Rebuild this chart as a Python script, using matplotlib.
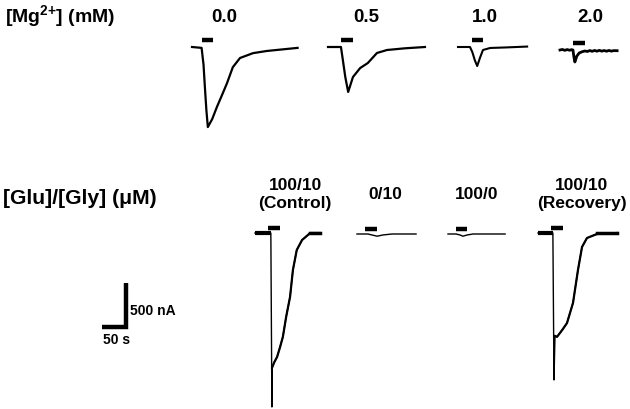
import matplotlib
matplotlib.use("Agg")
import matplotlib.pyplot as plt
import numpy as np

plt.rcParams["mathtext.fontset"] = "custom"
plt.rcParams["mathtext.rm"] = "Liberation Sans:bold"
plt.rcParams["mathtext.bf"] = "Liberation Sans:bold"

# ---------------- data (time in s from trace start, current in nA rel. baseline) ----
mg_labels = ["0.0", "0.5", "1.0", "2.0"]
mg00_t = [0, 20, 24, 27, 30, 33, 42, 52, 63, 73, 85, 100, 127, 156, 220]
mg00_i = [0, -10, -200, -470, -720, -910, -820, -680, -540, -410, -230, -125, -70, -45, -10]
mg05_t = [0, 27, 31, 36, 42, 52, 67, 83, 102, 123, 160, 202]
mg05_i = [0, 0, -150, -340, -511, -341, -239, -182, -68, -34, -15, 0]
mg10_t = [0, 25, 30, 35, 40, 46, 52, 67, 100, 144]
mg10_i = [0, 0, -60, -150, -216, -120, -34, -11, -5, 5]
mg20_t = [0, 5, 10, 15, 20, 24, 27, 29, 31, 35, 40, 46, 52, 57, 62, 67, 72, 77, 82, 87, 92,
          97, 102, 107, 112, 119]
mg20_i = [0, 6, -4, 5, -3, 4, 0, -80, -136, -70, -34, -20, -11, -17, -6, -15, -5, -14, -4,
          -13, -6, -14, -5, -13, -7, -8]

glu_labels = ["100/10\n(Control)", "0/10", "100/0", "100/10\n(Recovery)"]
ctrl_t = [0, 33, 35.2, 35.6, 40, 46, 52, 58, 65, 73, 79, 87, 98, 115, 135]
ctrl_i = [0, 0, -1977, -1530, -1470, -1409, -1300, -1182, -950, -727, -420, -193, -80, 0, 0]
g010_t = [0, 23, 31, 42, 54, 73, 123]
g010_i = [0, 0, -11, -25, -11, 0, 0]
g1000_t = [0, 17, 25, 31, 40, 52, 119]
g1000_i = [0, 0, -11, -25, -11, 0, 0]
rec_t = [0, 31, 33.3, 35.4, 39.6, 45.8, 52, 60.4, 72.9, 83.3, 91.7, 102, 123, 165]
rec_i = [0, 0, -1670, -1170, -1180, -1136, -1090, -1023, -795, -420, -159, -57, -11, 0]

# stimulus bars (start, end) in s
mg_bars = [(21, 44), (27, 52), (29, 52), (27, 52)]
glu_bars = [(27, 52), (17, 42), (17, 40), (27, 52)]

scale_time = 50    # s
scale_current = 500  # nA

# ---------------- layout ----------------
W, H = 630, 409
PX_PER_S = 24 / 50
PX_PER_NA = 44 / 500

fig = plt.figure(figsize=(W / 100, H / 100), dpi=100)
ax = fig.add_axes([0, 0, 1, 1])
ax.set_xlim(0, W / PX_PER_S)
ax.set_ylim(-H / PX_PER_NA, 0)
ax.axis("off")


def origin(px, py):
    return px / PX_PER_S, -py / PX_PER_NA


FONT = "Liberation Sans"

mg_traces = [(mg00_t, mg00_i), (mg05_t, mg05_i), (mg10_t, mg10_i), (mg20_t, mg20_i)]
mg_origins = [(192, 47), (328, 47), (458, 47), (560, 50)]
mg_lw = [1.6, 1.6, 1.5, 2.0]
for (t, i), (px, py), bar, lw in zip(mg_traces, mg_origins, mg_bars, mg_lw):
    ox, oy = origin(px, py)
    ax.plot(np.array(t) + ox, np.array(i) + oy, color="black", lw=lw,
            solid_joinstyle="round")
    ax.plot(np.array(bar) + ox, [oy + 80, oy + 80], color="black", lw=3.2,
            solid_capstyle="butt")

glu_traces = [(ctrl_t, ctrl_i), (g010_t, g010_i), (g1000_t, g1000_i), (rec_t, rec_i)]
glu_origins = [(255, 233), (357, 234), (448, 234), (538, 233)]
for k, ((t, i), (px, py), bar) in enumerate(zip(glu_traces, glu_origins, glu_bars)):
    ox, oy = origin(px, py)
    t = np.array(t); i = np.array(i)
    ax.plot(t + ox, i + oy, color="black", lw=1.0, solid_joinstyle="round")
    if k in (0, 3):
        # thicker baseline & slow phase
        ax.plot(t[:2] + ox, i[:2] + oy, color="black", lw=3.0, solid_capstyle="butt")
        ax.plot(t[3:] + ox, i[3:] + oy, color="black", lw=1.6)
        ax.plot([t[-2] + ox, t[-1] + ox], [oy, oy], color="black", lw=2.5)
    ax.plot(np.array(bar) + ox, [oy + 60, oy + 60], color="black", lw=3.2,
            solid_capstyle="butt")

# scale bar
sx, sy = origin(102, 327)
ax.plot([sx, sx + scale_time, sx + scale_time], [sy, sy, sy + scale_current],
        color="black", lw=3.2, solid_joinstyle="miter", solid_capstyle="butt")


def ftext(x, y, s, size, ha="center", va="center", **kw):
    fig.text(x / W, 1 - y / H, s, fontsize=size, ha=ha, va=va,
             fontweight="bold", family=[FONT, "DejaVu Sans"], **kw)


ftext(5, 17, r"[Mg$^{2{+}}$] (mM)", 14, ha="left")
for lab, x in zip(mg_labels, [224, 366, 485, 590]):
    ftext(x, 18, lab, 13.5)

ftext(3, 198, "[Glu]/[Gly] (\u03bcM)", 15.2, ha="left")
for lab, x in zip(glu_labels, [295, 385, 477, 582]):
    ftext(x, 195, lab, 12.5, linespacing=1.25)

ftext(130, 311, "%d nA" % scale_current, 10, ha="left")
ftext(103, 340, "%d s" % scale_time, 10, ha="left")

fig.savefig("out.png", dpi=100)
